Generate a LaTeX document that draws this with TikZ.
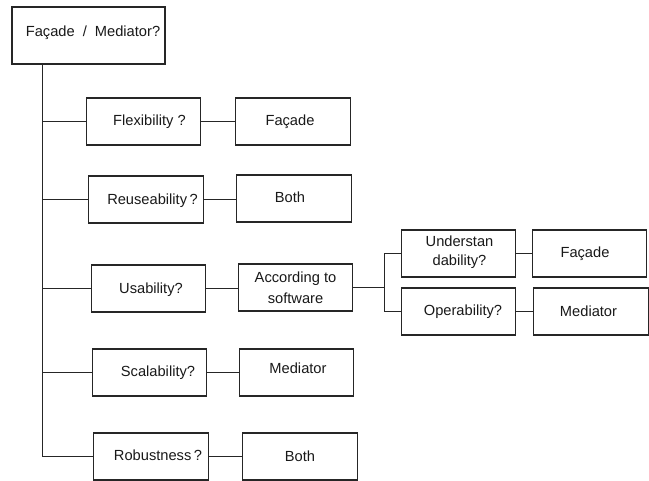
\documentclass[tikz,border=0pt]{standalone}
\usepackage{fontspec}
\setmainfont{Liberation Sans}
\usetikzlibrary{calc}
\begin{document}
\begin{tikzpicture}[x=0.75pt,y=-0.75pt,
  box/.style={draw=black!85, line width=0.9pt, fill=white, minimum width=86pt, minimum height=35.25pt, inner sep=0pt},
  rootbox/.style={box, minimum width=114.75pt, minimum height=42.75pt},
  txt/.style={inner sep=0pt, align=center, text=black!90,
    font=\fontsize{11}{15.5}\selectfont},
  wire/.style={draw=black!85, line width=0.9pt}]
\useasboundingbox (0,0) rectangle (649,481);

% boxes
\node[rootbox] (root)  at (88.5,35.5)  {};
\node[box]     (flex)  at (143.5,121.5) {};
\node[box]     (fac1)  at (293,121.5)  {};
\node[box]     (reuse) at (146,199.5)  {};
\node[box]     (both1) at (294,198.5)  {};
\node[box]     (usab)  at (148.5,288.5) {};
\node[box]     (acc)   at (295.5,287.5) {};
\node[box]     (und)   at (458.5,253.5) {};
\node[box]     (fac2)  at (589.5,253.5) {};
\node[box]     (oper)  at (458.5,311.5) {};
\node[box]     (med2)  at (591,311.5)  {};
\node[box]     (scal)  at (149.5,372.5) {};
\node[box]     (med1)  at (296.5,372.5) {};
\node[box]     (rob)   at (151,456.5)  {};
\node[box]     (both2) at (300,456.5)  {};

% labels
\node[txt] at ($(root.center)+(4.5,-2.5)$) {Façade\hspace{3pt} / \hspace{3pt}Mediator?};
\node[txt] at ($(flex.center)+(6,0)$)    {Flexibility ?};
\node[txt] at ($(fac1.center)+(-3,0)$)   {Façade};
\node[txt] at ($(reuse.center)+(6.5,1)$) {Reuseability\,?};
\node[txt] at ($(both1.center)+(-4,-1.5)$) {Both};
\node[txt] at ($(usab.center)+(2.5,1.5)$) {Usability?};
\node[txt] at ($(acc.center)+(0,0)$)     {According to\\software};
\node[txt, font=\fontsize{11}{14.5}\selectfont] at ($(und.center)+(1,-1)$) {Understan\\dability?};
\node[txt] at ($(fac2.center)+(-4.5,0)$) {Façade};
\node[txt] at ($(oper.center)+(4.5,0)$)  {Operability?};
\node[txt] at ($(med2.center)+(-2.5,0)$) {Mediator};
\node[txt] at ($(scal.center)+(8.5,0)$)  {Scalability?};
\node[txt] at ($(med1.center)+(1.5,-4)$) {Mediator};
\node[txt] at ($(rob.center)+(7,-1.5)$)  {Robustness\,?};
\node[txt] at ($(both2.center)+(0,0)$)   {Both};

% trunk from the root box
\coordinate (trunk) at ($(root.south west)+(31,0)$);
\coordinate (trunkend) at (trunk |- rob.west);
\draw[wire] (trunk) -- (trunkend);
\foreach \b in {flex,reuse,usab,scal,rob}
  \draw[wire] (trunk |- \b.west) -- (\b.west);

% answers
\draw[wire] (flex.east)  -- (flex.east -| fac1.west);
\draw[wire] (reuse.east) -- (reuse.east -| both1.west);
\draw[wire] (usab.east)  -- (usab.east -| acc.west);
\draw[wire] (scal.east)  -- (scal.east -| med1.west);
\draw[wire] (rob.east)   -- (rob.east -| both2.west);

% usability sub-branch
\coordinate (fork) at (384.5,287.5);
\draw[wire] (acc.east) -- (fork);
\draw[wire] (und.west) -| (fork) |- (oper.west);
\draw[wire] (und.east)  -- (und.east -| fac2.west);
\draw[wire] (oper.east) -- (oper.east -| med2.west);
\end{tikzpicture}
\end{document}
